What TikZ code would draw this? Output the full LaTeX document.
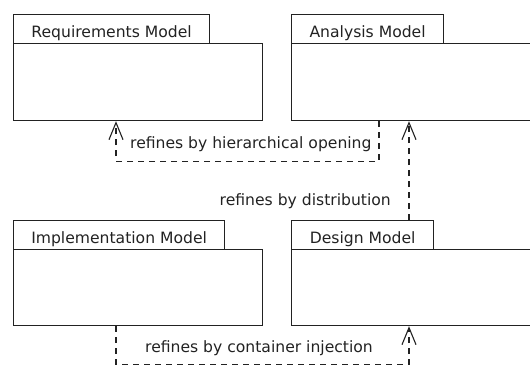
\documentclass[tikz,border=0pt]{standalone}
\usepackage{fontspec}
\setmainfont{DejaVu Sans}
\usetikzlibrary{arrows.meta}
\definecolor{ink}{HTML}{222222}
\begin{document}
\begin{tikzpicture}[x=1pt,y=-1pt,
  box/.style={draw=ink, line width=1.2pt, rectangle, inner sep=0pt, anchor=north west, fill=white},
  tabbox/.style={box, minimum height=29pt, text height=17pt, text depth=0pt,
    font=\fontsize{15.6}{18}\selectfont, text=ink},
  lbl/.style={font=\fontsize{15.6}{18}\selectfont, text=ink, inner sep=0pt},
  dep/.style={draw=ink, line width=1.1pt, dash pattern=on 6pt off 5pt,
    -{Straight Barb[length=17pt,width=14pt,line width=1.1pt]}}]
\useasboundingbox (0,0) rectangle (530,365);
\clip (0,0) rectangle (530,365);
% packages
\node[tabbox, minimum width=196pt] (reqTab) at (13,14) {Requirements Model};
\node[box, minimum width=249pt, minimum height=77pt] (reqBody) at (13,43) {};
\node[tabbox, minimum width=152pt] (anaTab) at (291,14) {Analysis Model};
\node[box, minimum width=260pt, minimum height=77pt] (anaBody) at (291,43) {};
\node[tabbox, minimum width=211pt] (impTab) at (13,220) {Implementation Model};
\node[box, minimum width=249pt, minimum height=76pt] (impBody) at (13,249) {};
\node[tabbox, minimum width=142pt] (desTab) at (291,220) {Design Model};
\node[box, minimum width=260pt, minimum height=76pt] (desBody) at (291,249) {};
% dependencies
\draw[dep] ([xshift=88pt]anaBody.south west) -- ++(0,40) -| ([xshift=103pt]reqBody.south west);
\draw[dep] ([xshift=118pt]desTab.north west) -- ([xshift=118pt]anaBody.south west);
\draw[dep] ([xshift=103pt]impBody.south west) -- ++(0,38) -| ([xshift=118pt]desBody.south west);
% labels
\node[lbl, anchor=base west] (l1) at (130,148) {refines by hierarchical opening};
\node[lbl, anchor=base east] (l2) at (391,205) {refines by distribution};
\node[lbl, anchor=base west] (l3) at (145,352) {refines by container injection};
\end{tikzpicture}
\end{document}
